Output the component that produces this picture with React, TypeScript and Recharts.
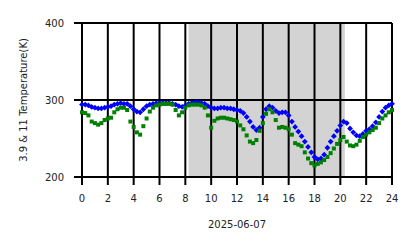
import {
  ScatterChart, Scatter, XAxis, YAxis, ReferenceArea, ReferenceLine,
} from 'recharts';

const hours = [
  0, 0.25, 0.5, 0.75, 1, 1.25, 1.5, 1.75, 2, 2.25, 2.5, 2.75,
  3, 3.25, 3.5, 3.75, 4, 4.25, 4.5, 4.75, 5, 5.25, 5.5, 5.75,
  6, 6.25, 6.5, 6.75, 7, 7.25, 7.5, 7.75, 8, 8.25, 8.5, 8.75,
  9, 9.25, 9.5, 9.75, 10, 10.25, 10.5, 10.75, 11, 11.25, 11.5, 11.75,
  12, 12.25, 12.5, 12.75, 13, 13.25, 13.5, 13.75, 14, 14.25, 14.5, 14.75,
  15, 15.25, 15.5, 15.75, 16, 16.25, 16.5, 16.75, 17, 17.25, 17.5, 17.75,
  18, 18.25, 18.5, 18.75, 19, 19.25, 19.5, 19.75, 20, 20.25, 20.5, 20.75,
  21, 21.25, 21.5, 21.75, 22, 22.25, 22.5, 22.75, 23, 23.25, 23.5, 23.75, 24,
];

// 3.9 um temperature (blue)
const temp39 = [
  294, 294, 293, 291, 290, 289, 289, 290, 291, 292, 294, 295,
  296, 295, 295, 292, 288, 285, 284, 288, 292, 294, 295, 296,
  296, 296, 296, 296, 295, 294, 292, 291, 293, 295, 296, 297,
  297, 296, 295, 292, 290, 289, 289, 290, 290, 289, 289, 288,
  287, 286, 283, 278, 272, 265, 261, 264, 278, 288, 292, 290,
  286, 283, 284, 284, 280, 272, 265, 259, 253, 246, 239, 232,
  226, 223, 224, 229, 238, 246, 253, 260, 267, 272, 270, 263,
  258, 254, 253, 256, 260, 262, 266, 271, 278, 285, 290, 293, 295,
];

// 11 um temperature (green)
const temp11 = [
  284, 283, 280, 272, 270, 268, 270, 274, 276, 277, 284, 288,
  290, 290, 287, 272, 265, 258, 255, 266, 276, 285, 290, 293,
  294, 295, 295, 295, 294, 287, 280, 284, 290, 293, 294, 294,
  294, 293, 290, 280, 264, 273, 276, 277, 277, 276, 275, 274,
  272, 267, 262, 254, 246, 244, 248, 260, 270, 282, 288, 284,
  274, 264, 265, 264, 262, 255, 244, 242, 240, 232, 224, 218,
  215, 217, 219, 222, 226, 231, 237, 243, 248, 252, 246, 241,
  240, 242, 247, 252, 255, 258, 261, 264, 270, 276, 280, 284, 287,
];

const xTicks = [0, 2, 4, 6, 8, 10, 12, 14, 16, 18, 20, 22, 24];
const yTicks = [200, 300, 400];

const shadeStart = 8.25;
const shadeEnd = 20.35;

const blueData = hours.map((h, i) => ({ h, t: temp39[i] }));
const greenData = hours.map((h, i) => ({ h, t: temp11[i] }));

const FONT = 'DejaVu Sans, sans-serif';
const TEXT = '#222';

function Diamond({ cx, cy }: { cx?: number; cy?: number }) {
  if (cx == null || cy == null) return null;
  const r = 2.9;
  return (
    <polygon
      points={`${cx},${cy - r} ${cx + r},${cy} ${cx},${cy + r} ${cx - r},${cy}`}
      fill="#0000ff"
    />
  );
}

function Square({ cx, cy }: { cx?: number; cy?: number }) {
  if (cx == null || cy == null) return null;
  const s = 4;
  return <rect x={cx - s / 2} y={cy - s / 2} width={s} height={s} fill="#008000" />;
}

export default function App() {
  return (
    <div style={{ position: 'absolute', left: 0, top: 0, background: '#fff' }}>
      <ScatterChart width={418} height={248} margin={{ top: 23, right: 26, bottom: 0, left: 0 }}>
        <XAxis
          type="number"
          dataKey="h"
          domain={[0, 24]}
          ticks={xTicks}
          height={71}
          axisLine={{ stroke: '#000', strokeWidth: 2 }}
          tickLine={{ stroke: '#000', strokeWidth: 2 }}
          tickSize={8}
          tickMargin={10}
          tick={{ fontSize: 10, fill: TEXT, fontFamily: FONT }}
          label={{ value: '2025-06-07', position: 'insideBottom', offset: 20, fontSize: 10, fill: TEXT, fontFamily: FONT }}
        />
        <YAxis
          type="number"
          dataKey="t"
          domain={[200, 400]}
          ticks={yTicks}
          width={82}
          axisLine={{ stroke: '#000', strokeWidth: 2 }}
          tickLine={{ stroke: '#000', strokeWidth: 2 }}
          tickSize={8}
          tickMargin={10}
          tick={{ fontSize: 10, fill: TEXT, fontFamily: FONT }}
          label={{
            value: '3.9 & 11 Temperature(K)',
            angle: -90,
            position: 'insideLeft',
            offset: 23,
            fontSize: 10,
            fill: TEXT,
            fontFamily: FONT,
            style: { textAnchor: 'middle' },
          }}
        />
        <ReferenceArea x1={shadeStart} x2={shadeEnd} y1={200} y2={400} fill="#d3d3d3" fillOpacity={1} stroke="none" />
        {xTicks.map(x => (
          <ReferenceLine key={'x' + x} x={x} stroke="#000" strokeWidth={2} />
        ))}
        {yTicks.map(y => (
          <ReferenceLine key={'y' + y} y={y} stroke="#000" strokeWidth={2} />
        ))}
        <Scatter data={blueData} shape={<Diamond />} isAnimationActive={false} />
        <Scatter data={greenData} shape={<Square />} isAnimationActive={false} />
      </ScatterChart>
    </div>
  );
}
